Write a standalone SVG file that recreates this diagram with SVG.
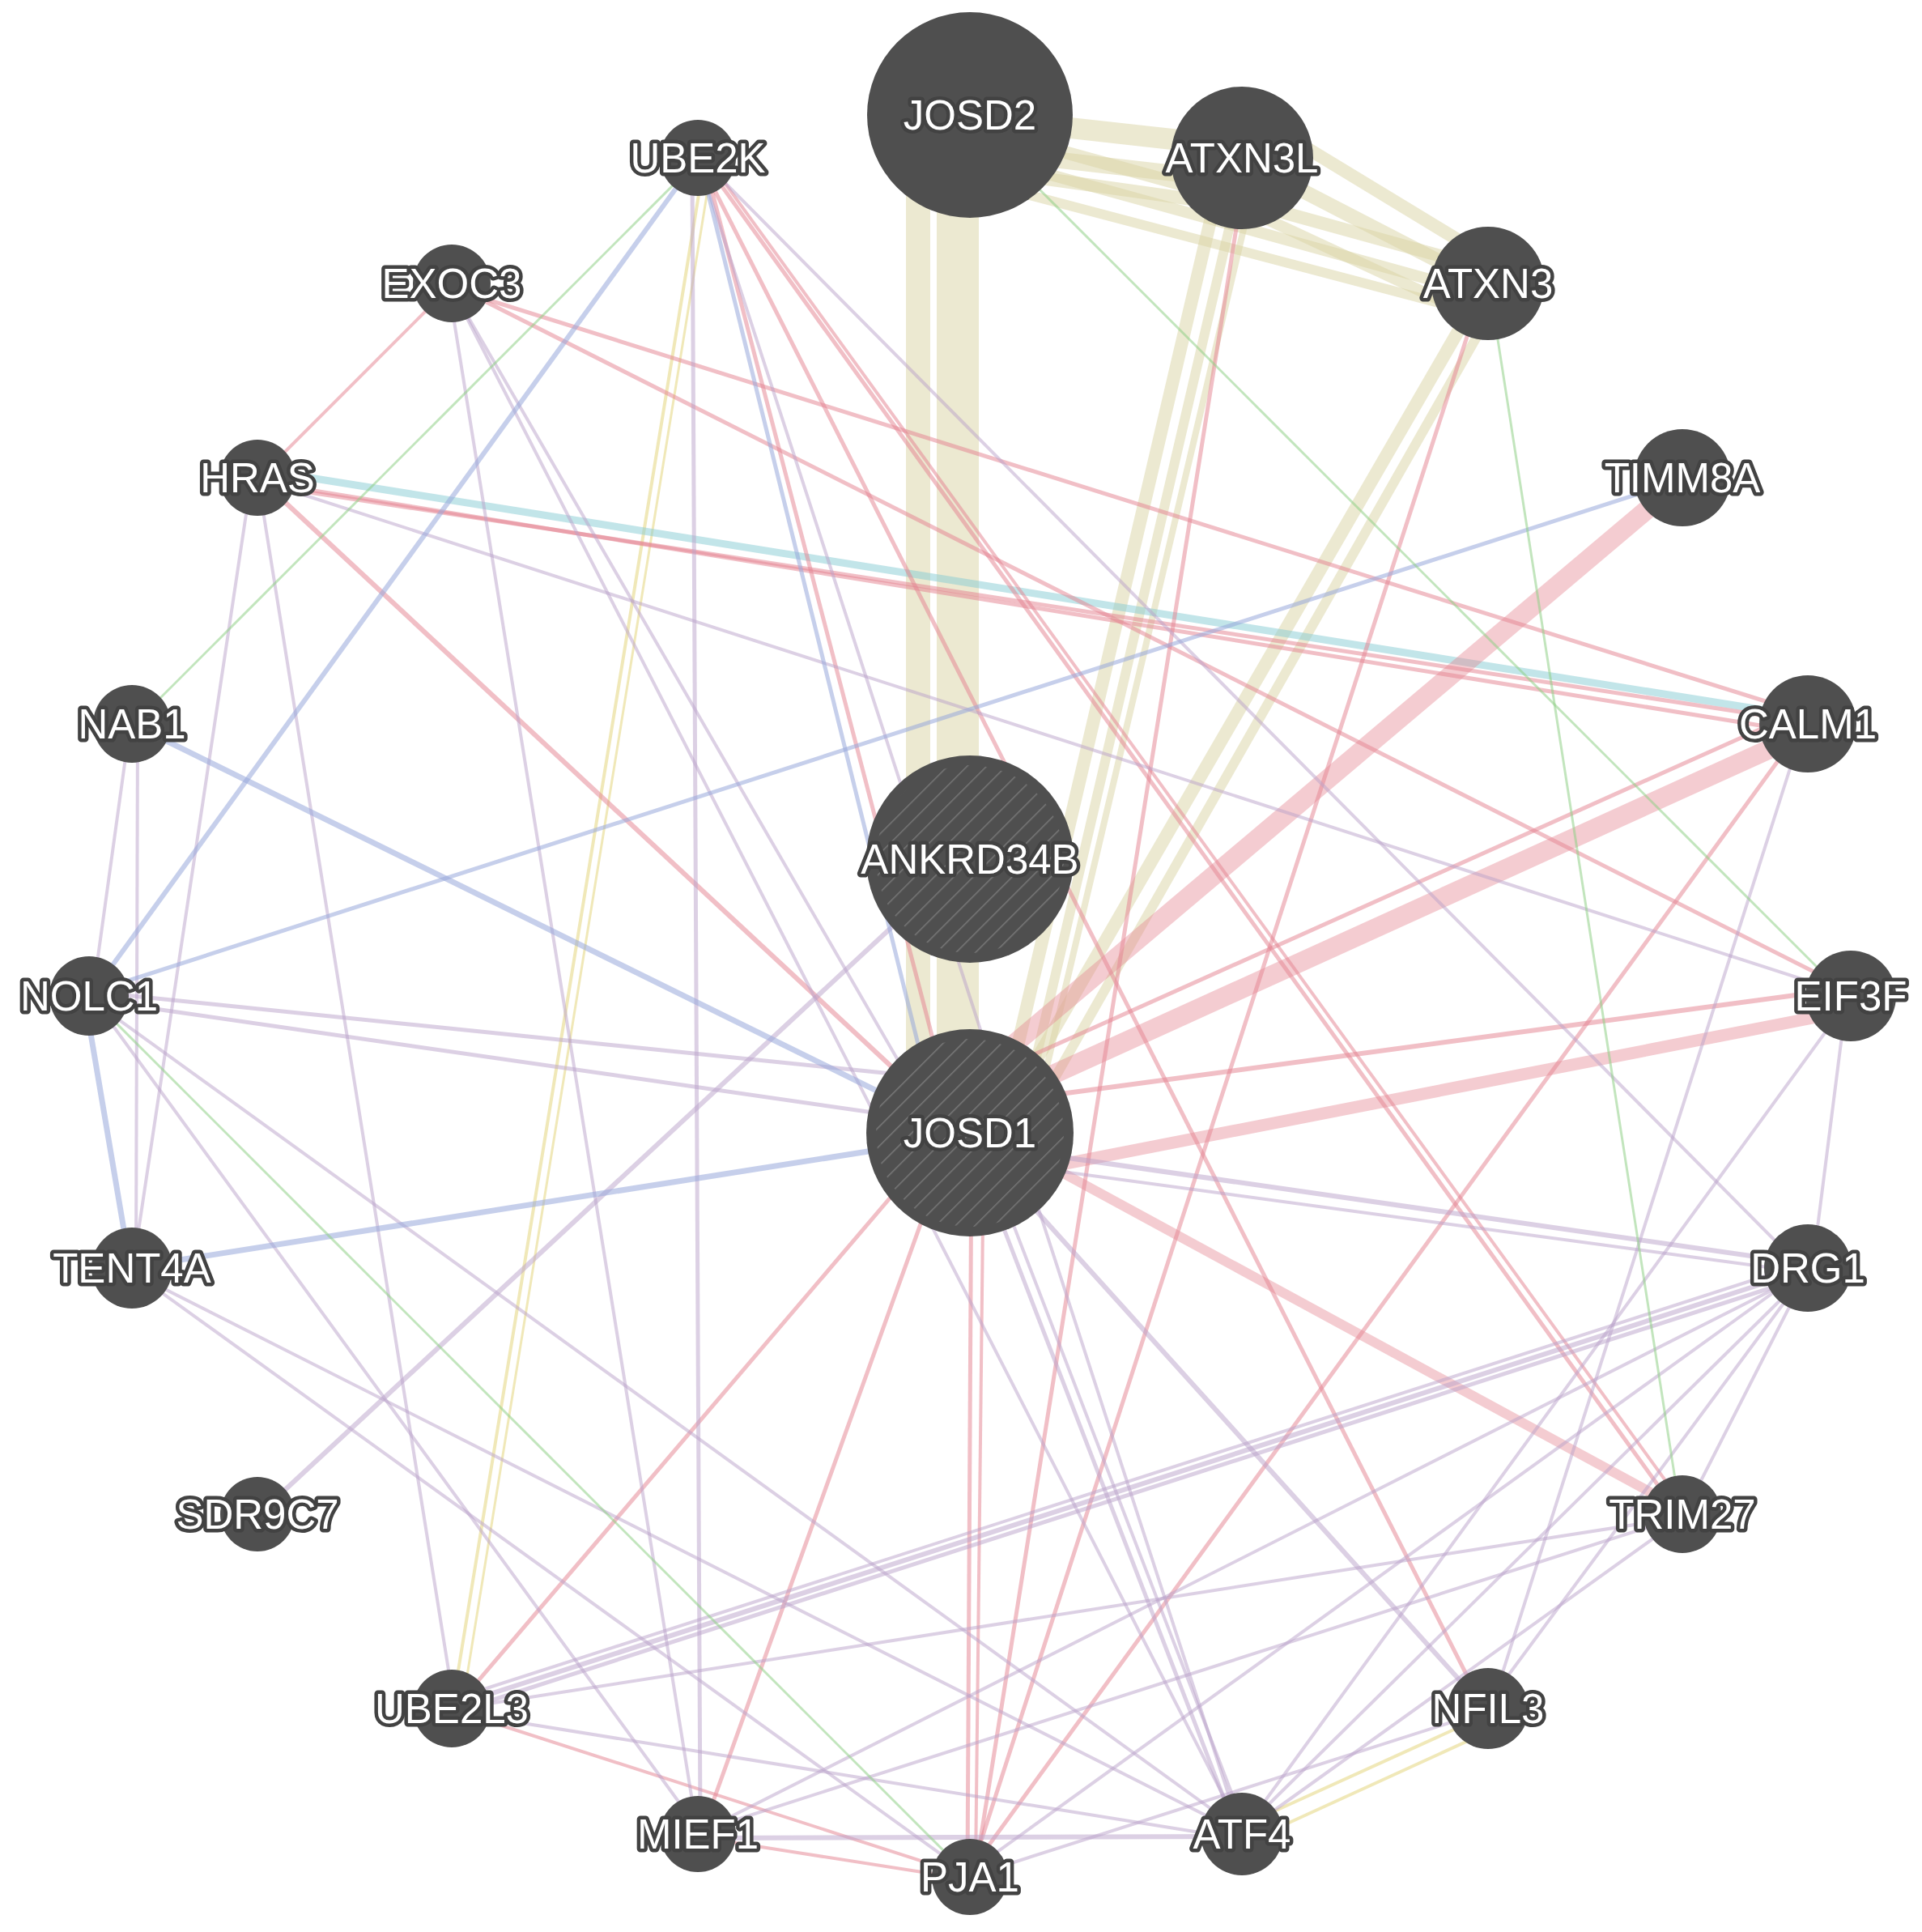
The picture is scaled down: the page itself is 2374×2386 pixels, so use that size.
<svg xmlns="http://www.w3.org/2000/svg" width="2374" height="2386" viewBox="0 0 2374 2386">
<defs>
<pattern id="hatch" width="17" height="17" patternUnits="userSpaceOnUse" patternTransform="rotate(45)">
<line x1="0" y1="0" x2="0" y2="17" stroke="#787878" stroke-width="3"/>
</pattern>
</defs>
<style>
.e line{fill:none;stroke-linecap:butt}
.phys{stroke:#e58592;stroke-opacity:.52}
.phys.t{stroke-opacity:.42}
.coexp{stroke:#b9a2c9;stroke-opacity:.5}
.coloc{stroke:#98a8da;stroke-opacity:.55}
.gen{stroke:#8fcf86;stroke-opacity:.55}
.path{stroke:#86cbd3;stroke-opacity:.5}
.dom{stroke:#d9d4a3;stroke-opacity:.5}
.pred{stroke:#e3d57e;stroke-opacity:.55}
.node circle{fill:#4f4f4f}
.node .h{fill:url(#hatch)}
.lbl{font-family:"Liberation Sans",Arial,sans-serif;font-size:51px;fill:#fff;stroke:#424242;stroke-width:9;paint-order:stroke;stroke-linejoin:round;text-anchor:middle;dominant-baseline:central}
</style>
<rect width="2374" height="2386" fill="#fff"/>
<g id="connectors" class="e">
<line class="dom" x1="1134" y1="150" x2="1134" y2="1399" stroke-width="30"/>
<line class="dom" x1="1183" y1="150" x2="1183" y2="1399" stroke-width="52"/>
<line class="dom" x1="1250" y1="150" x2="1520" y2="180" stroke-width="26"/>
<line class="dom" x1="1240" y1="190" x2="1520" y2="222" stroke-width="20"/>
<line class="dom" x1="1250" y1="215" x2="1500" y2="250" stroke-width="16"/>
<line class="dom" x1="1250" y1="170" x2="1830" y2="330" stroke-width="16"/>
<line class="dom" x1="1240" y1="200" x2="1820" y2="360" stroke-width="14"/>
<line class="dom" x1="1230" y1="230" x2="1800" y2="380" stroke-width="12"/>
<line class="dom" x1="1560" y1="150" x2="1840" y2="320" stroke-width="16"/>
<line class="dom" x1="1540" y1="200" x2="1830" y2="350" stroke-width="18"/>
<line class="dom" x1="1520" y1="250" x2="1810" y2="385" stroke-width="14"/>
<line class="dom" x1="1505" y1="230" x2="1248" y2="1330" stroke-width="16"/>
<line class="dom" x1="1528" y1="240" x2="1272" y2="1340" stroke-width="12"/>
<line class="dom" x1="1545" y1="245" x2="1290" y2="1330" stroke-width="8"/>
<line class="dom" x1="1818" y1="380" x2="1268" y2="1330" stroke-width="16"/>
<line class="dom" x1="1836" y1="395" x2="1295" y2="1345" stroke-width="12"/>
<line class="pred" x1="868" y1="210" x2="560" y2="2100" stroke-width="4"/>
<line class="pred" x1="878" y1="210" x2="572" y2="2100" stroke-width="3"/>
<line class="pred" x1="1820" y1="2125" x2="1545" y2="2250" stroke-width="4"/>
<line class="pred" x1="1835" y1="2140" x2="1555" y2="2268" stroke-width="4"/>
<line class="path" x1="320" y1="580" x2="2230" y2="885" stroke-width="9"/>
<line class="phys t" x1="2075" y1="595" x2="1240" y2="1300" stroke-width="24"/>
<line class="phys t" x1="2230" y1="905" x2="1250" y2="1350" stroke-width="24"/>
<line class="phys" x1="2220" y1="880" x2="1260" y2="1310" stroke-width="5"/>
<line class="phys" x1="2270" y1="1222" x2="1280" y2="1355" stroke-width="6"/>
<line class="phys t" x1="2275" y1="1250" x2="1250" y2="1450" stroke-width="15"/>
<line class="phys t" x1="2070" y1="1860" x2="1260" y2="1420" stroke-width="12"/>
<line class="phys" x1="330" y1="600" x2="2220" y2="890" stroke-width="5"/>
<line class="phys" x1="320" y1="595" x2="2230" y2="905" stroke-width="5"/>
<line class="phys" x1="570" y1="360" x2="2225" y2="880" stroke-width="5"/>
<line class="phys" x1="565" y1="355" x2="2270" y2="1215" stroke-width="5"/>
<line class="phys" x1="555" y1="355" x2="320" y2="590" stroke-width="4"/>
<line class="phys" x1="870" y1="200" x2="1180" y2="1390" stroke-width="5"/>
<line class="phys" x1="870" y1="200" x2="2070" y2="1865" stroke-width="5"/>
<line class="phys" x1="880" y1="205" x2="2080" y2="1860" stroke-width="4"/>
<line class="phys" x1="865" y1="200" x2="1830" y2="2105" stroke-width="5"/>
<line class="phys" x1="1540" y1="200" x2="1205" y2="2310" stroke-width="5"/>
<line class="phys" x1="1830" y1="360" x2="1200" y2="2310" stroke-width="5"/>
<line class="phys" x1="2225" y1="900" x2="1195" y2="2315" stroke-width="5"/>
<line class="phys" x1="325" y1="595" x2="1190" y2="1400" stroke-width="6"/>
<line class="phys" x1="1150" y1="1420" x2="570" y2="2100" stroke-width="5"/>
<line class="phys" x1="570" y1="2115" x2="1190" y2="2315" stroke-width="4"/>
<line class="phys" x1="870" y1="2270" x2="1190" y2="2320" stroke-width="4"/>
<line class="phys" x1="1200" y1="1410" x2="1195" y2="2310" stroke-width="5"/>
<line class="phys" x1="1215" y1="1420" x2="1205" y2="2310" stroke-width="4"/>
<line class="phys" x1="1170" y1="1420" x2="870" y2="2255" stroke-width="5"/>
<line class="coexp" x1="115" y1="1225" x2="160" y2="900" stroke-width="4"/>
<line class="coexp" x1="170" y1="900" x2="168" y2="1560" stroke-width="4"/>
<line class="coexp" x1="310" y1="595" x2="165" y2="1560" stroke-width="4"/>
<line class="coexp" x1="320" y1="600" x2="560" y2="2100" stroke-width="4"/>
<line class="coexp" x1="115" y1="1235" x2="1190" y2="1390" stroke-width="5"/>
<line class="coexp" x1="115" y1="1225" x2="1190" y2="1335" stroke-width="5"/>
<line class="coexp" x1="120" y1="1240" x2="860" y2="2255" stroke-width="4"/>
<line class="coexp" x1="120" y1="1240" x2="1525" y2="2255" stroke-width="4"/>
<line class="coexp" x1="170" y1="1575" x2="1525" y2="2260" stroke-width="4"/>
<line class="coexp" x1="170" y1="1575" x2="1190" y2="2310" stroke-width="4"/>
<line class="coexp" x1="555" y1="360" x2="860" y2="2255" stroke-width="4"/>
<line class="coexp" x1="560" y1="360" x2="1150" y2="1380" stroke-width="4"/>
<line class="coexp" x1="855" y1="210" x2="865" y2="2255" stroke-width="5"/>
<line class="coexp" x1="2225" y1="1570" x2="565" y2="2105" stroke-width="6"/>
<line class="coexp" x1="2220" y1="1580" x2="560" y2="2115" stroke-width="5"/>
<line class="coexp" x1="2230" y1="1560" x2="570" y2="2095" stroke-width="4"/>
<line class="coexp" x1="2225" y1="1575" x2="870" y2="2260" stroke-width="4"/>
<line class="coexp" x1="2225" y1="1560" x2="1250" y2="1420" stroke-width="6"/>
<line class="coexp" x1="2220" y1="1570" x2="1260" y2="1440" stroke-width="4"/>
<line class="coexp" x1="2230" y1="1575" x2="2085" y2="1860" stroke-width="4"/>
<line class="coexp" x1="2225" y1="1580" x2="1840" y2="2100" stroke-width="4"/>
<line class="coexp" x1="2225" y1="1580" x2="1540" y2="2255" stroke-width="4"/>
<line class="coexp" x1="2220" y1="1575" x2="1200" y2="2310" stroke-width="4"/>
<line class="coexp" x1="2280" y1="1240" x2="2240" y2="1555" stroke-width="4"/>
<line class="coexp" x1="2280" y1="1240" x2="1540" y2="2255" stroke-width="4"/>
<line class="coexp" x1="2225" y1="905" x2="1845" y2="2100" stroke-width="4"/>
<line class="coexp" x1="1230" y1="1440" x2="1830" y2="2105" stroke-width="6"/>
<line class="coexp" x1="1210" y1="1440" x2="1525" y2="2255" stroke-width="5"/>
<line class="coexp" x1="1220" y1="1430" x2="1535" y2="2250" stroke-width="4"/>
<line class="coexp" x1="870" y1="2270" x2="1525" y2="2268" stroke-width="6"/>
<line class="coexp" x1="565" y1="2115" x2="1525" y2="2270" stroke-width="4"/>
<line class="coexp" x1="2070" y1="1875" x2="870" y2="2260" stroke-width="4"/>
<line class="coexp" x1="2070" y1="1875" x2="565" y2="2110" stroke-width="4"/>
<line class="coexp" x1="2070" y1="1880" x2="1540" y2="2260" stroke-width="4"/>
<line class="coexp" x1="1830" y1="2115" x2="1205" y2="2315" stroke-width="4"/>
<line class="coexp" x1="325" y1="1865" x2="1150" y2="1100" stroke-width="6"/>
<line class="coexp" x1="870" y1="200" x2="2225" y2="1565" stroke-width="4"/>
<line class="coexp" x1="325" y1="595" x2="2275" y2="1225" stroke-width="4"/>
<line class="coexp" x1="560" y1="360" x2="1530" y2="2255" stroke-width="4"/>
<line class="coexp" x1="865" y1="205" x2="1530" y2="2255" stroke-width="4"/>
<line class="coloc" x1="855" y1="205" x2="115" y2="1225" stroke-width="6"/>
<line class="coloc" x1="115" y1="1225" x2="2070" y2="595" stroke-width="5"/>
<line class="coloc" x1="165" y1="895" x2="1180" y2="1395" stroke-width="7"/>
<line class="coloc" x1="165" y1="1565" x2="1180" y2="1405" stroke-width="7"/>
<line class="coloc" x1="105" y1="1235" x2="160" y2="1560" stroke-width="7"/>
<line class="coloc" x1="865" y1="200" x2="1160" y2="1395" stroke-width="5"/>
<line class="gen" x1="860" y1="200" x2="165" y2="895" stroke-width="3"/>
<line class="gen" x1="115" y1="1235" x2="1195" y2="2315" stroke-width="3"/>
<line class="gen" x1="1200" y1="150" x2="2280" y2="1230" stroke-width="3"/>
<line class="gen" x1="1840" y1="355" x2="2075" y2="1865" stroke-width="3"/>
</g>
<g id="node-JOSD2" class="node"><circle cx="1198" cy="142" r="127"/><text class="lbl" x="1198" y="142">JOSD2</text></g>
<g id="node-ATXN3L" class="node"><circle cx="1534" cy="195" r="88"/><text class="lbl" x="1534" y="195">ATXN3L</text></g>
<g id="node-ATXN3" class="node"><circle cx="1838" cy="350" r="70"/><text class="lbl" x="1838" y="350">ATXN3</text></g>
<g id="node-TIMM8A" class="node"><circle cx="2078" cy="590" r="60"/><text class="lbl" x="2078" y="590">TIMM8A</text></g>
<g id="node-CALM1" class="node"><circle cx="2233" cy="894" r="60"/><text class="lbl" x="2233" y="894">CALM1</text></g>
<g id="node-EIF3F" class="node"><circle cx="2286" cy="1230" r="56"/><text class="lbl" x="2286" y="1230">EIF3F</text></g>
<g id="node-DRG1" class="node"><circle cx="2233" cy="1566" r="54"/><text class="lbl" x="2233" y="1566">DRG1</text></g>
<g id="node-TRIM27" class="node"><circle cx="2078" cy="1870" r="48"/><text class="lbl" x="2078" y="1870">TRIM27</text></g>
<g id="node-NFIL3" class="node"><circle cx="1838" cy="2110" r="50"/><text class="lbl" x="1838" y="2110">NFIL3</text></g>
<g id="node-ATF4" class="node"><circle cx="1534" cy="2265" r="51"/><text class="lbl" x="1534" y="2265">ATF4</text></g>
<g id="node-PJA1" class="node"><circle cx="1198" cy="2318" r="47"/><text class="lbl" x="1198" y="2318">PJA1</text></g>
<g id="node-MIEF1" class="node"><circle cx="862" cy="2265" r="47"/><text class="lbl" x="862" y="2265">MIEF1</text></g>
<g id="node-UBE2L3" class="node"><circle cx="558" cy="2110" r="48"/><text class="lbl" x="558" y="2110">UBE2L3</text></g>
<g id="node-SDR9C7" class="node"><circle cx="318" cy="1870" r="46"/><text class="lbl" x="318" y="1870">SDR9C7</text></g>
<g id="node-TENT4A" class="node"><circle cx="163" cy="1566" r="50"/><text class="lbl" x="163" y="1566">TENT4A</text></g>
<g id="node-NOLC1" class="node"><circle cx="110" cy="1230" r="49"/><text class="lbl" x="110" y="1230">NOLC1</text></g>
<g id="node-NAB1" class="node"><circle cx="163" cy="894" r="48"/><text class="lbl" x="163" y="894">NAB1</text></g>
<g id="node-HRAS" class="node"><circle cx="318" cy="590" r="47"/><text class="lbl" x="318" y="590">HRAS</text></g>
<g id="node-EXOC3" class="node"><circle cx="558" cy="350" r="48"/><text class="lbl" x="558" y="350">EXOC3</text></g>
<g id="node-UBE2K" class="node"><circle cx="862" cy="195" r="47"/><text class="lbl" x="862" y="195">UBE2K</text></g>
<g id="node-ANKRD34B" class="node"><circle cx="1198" cy="1061" r="128"/><circle class="h" cx="1198" cy="1061" r="116"/><text class="lbl" x="1198" y="1061">ANKRD34B</text></g>
<g id="node-JOSD1" class="node"><circle cx="1198" cy="1399" r="128"/><circle class="h" cx="1198" cy="1399" r="116"/><text class="lbl" x="1198" y="1399">JOSD1</text></g>
</svg>
